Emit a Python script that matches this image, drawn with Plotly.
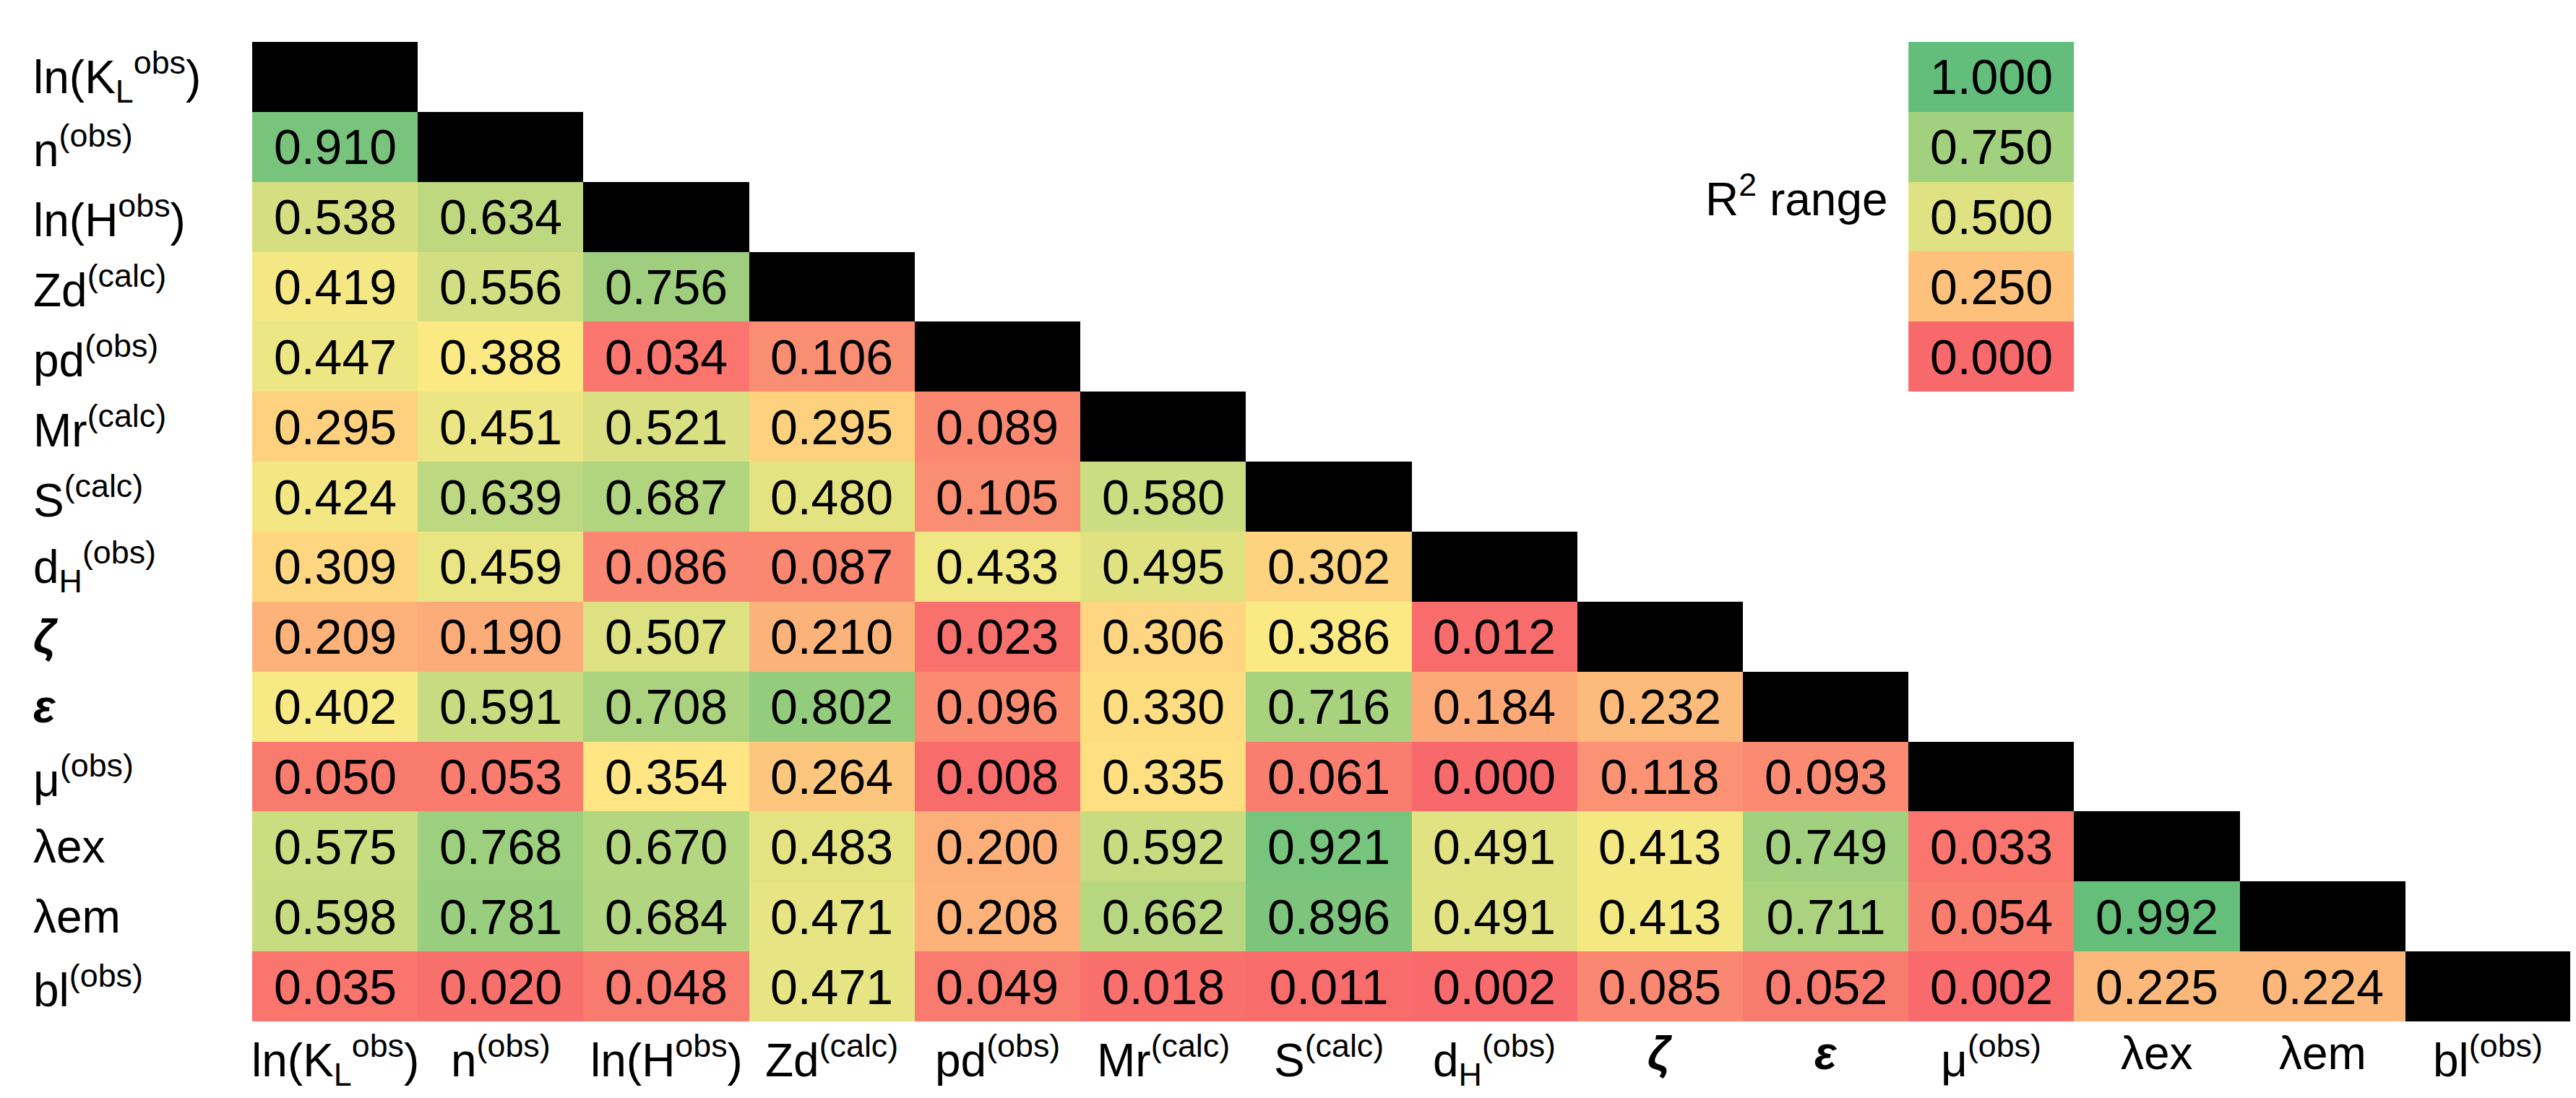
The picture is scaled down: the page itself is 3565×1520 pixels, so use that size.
import numpy as np
import plotly.graph_objects as go

# ---- data ----
variables = [
    "ln(K<sub>L</sub><sup>obs</sup>)", "n<sup>(obs)</sup>", "ln(H<sup>obs</sup>)",
    "Zd<sup>(calc)</sup>", "pd<sup>(obs)</sup>", "Mr<sup>(calc)</sup>",
    "S<sup>(calc)</sup>", "d<sub>H</sub><sup>(obs)</sup>", "<b><i>ζ</i></b>",
    "<b><i>ε</i></b>", "μ<sup>(obs)</sup>", "λex", "λem", "bl<sup>(obs)</sup>",
]

# lower triangle of R^2 values, row by row (row 2 .. row 14)
r2_n     = [0.910]
r2_lnH   = [0.538, 0.634]
r2_Zd    = [0.419, 0.556, 0.756]
r2_pd    = [0.447, 0.388, 0.034, 0.106]
r2_Mr    = [0.295, 0.451, 0.521, 0.295, 0.089]
r2_S     = [0.424, 0.639, 0.687, 0.480, 0.105, 0.580]
r2_dH    = [0.309, 0.459, 0.086, 0.087, 0.433, 0.495, 0.302]
r2_zeta  = [0.209, 0.190, 0.507, 0.210, 0.023, 0.306, 0.386, 0.012]
r2_eps   = [0.402, 0.591, 0.708, 0.802, 0.096, 0.330, 0.716, 0.184, 0.232]
r2_mu    = [0.050, 0.053, 0.354, 0.264, 0.008, 0.335, 0.061, 0.000, 0.118, 0.093]
r2_lex   = [0.575, 0.768, 0.670, 0.483, 0.200, 0.592, 0.921, 0.491, 0.413, 0.749, 0.033]
r2_lem   = [0.598, 0.781, 0.684, 0.471, 0.208, 0.662, 0.896, 0.491, 0.413, 0.711, 0.054, 0.992]
r2_bl    = [0.035, 0.020, 0.048, 0.471, 0.049, 0.018, 0.011, 0.002, 0.085, 0.052, 0.002, 0.225, 0.224]

legend_values = [1.000, 0.750, 0.500, 0.250, 0.000]
legend_title = "R<sup>2</sup> range"

rows = [r2_n, r2_lnH, r2_Zd, r2_pd, r2_Mr, r2_S, r2_dH, r2_zeta,
        r2_eps, r2_mu, r2_lex, r2_lem, r2_bl]

# ---- build matrices ----
n = len(variables)
Z = [[None] * n for _ in range(n)]
T = [[""] * n for _ in range(n)]
for i, row in enumerate(rows, start=1):
    for j, v in enumerate(row):
        Z[i][j] = v
        T[i][j] = f"{v:.3f}"
D = [[1 if i == j else None for j in range(n)] for i in range(n)]

# Excel-like 3-colour scale: min -> red, 50th percentile -> yellow, max -> green
all_vals = [v for r in rows for v in r] + legend_values
zmin, zmax = min(all_vals), max(all_vals)
zmid = float(np.percentile(all_vals, 50))
mid_frac = (zmid - zmin) / (zmax - zmin)
cscale = [[0.0, "#F8696B"], [mid_frac, "#FFEB84"], [1.0, "#63BE7B"]]

FONT = "Arial, Liberation Sans, sans-serif"
FS_CELL = 68
FS_LAB = 64

idx = list(range(n))
fig = go.Figure()
fig.add_trace(go.Heatmap(
    z=Z, x=idx, y=idx, text=T, texttemplate="%{text}",
    textfont=dict(family=FONT, size=FS_CELL, color="black"),
    colorscale=cscale, zmin=zmin, zmax=zmax, showscale=False,
    hoverinfo="skip", xgap=0, ygap=0,
))
fig.add_trace(go.Heatmap(
    z=D, x=idx, y=idx, colorscale=[[0, "black"], [1, "black"]],
    showscale=False, hoverinfo="skip",
))
# legend column (placed in the empty upper triangle, column 11)
leg_col = 10
fig.add_trace(go.Heatmap(
    z=[[v] for v in legend_values], x=[leg_col], y=list(range(len(legend_values))),
    text=[[f"{v:.3f}"] for v in legend_values], texttemplate="%{text}",
    textfont=dict(family=FONT, size=FS_CELL, color="black"),
    colorscale=cscale, zmin=zmin, zmax=zmax, showscale=False, hoverinfo="skip",
))

annotations = []
W, H = 3565, 1520
ml, mr, mt, mb = 341, 15, 50, 114
plot_w = W - ml - mr
# row labels (left aligned)
for i, lab in enumerate(variables):
    annotations.append(dict(
        text=lab, x=-(ml - 36) / plot_w, xref="paper", xanchor="left",
        y=i, yref="y", yanchor="middle", showarrow=False,
        font=dict(family=FONT, size=FS_LAB, color="black"),
    ))
# column labels
for i, lab in enumerate(variables):
    annotations.append(dict(
        text=lab, x=i, xref="x", xanchor="center",
        y=0, yref="paper", yanchor="top", yshift=-6, showarrow=False,
        font=dict(family=FONT, size=FS_LAB, color="black"),
    ))
# legend title
annotations.append(dict(
    text=legend_title, x=leg_col - 0.5, xref="x", xanchor="right", xshift=-26,
    y=1.7, yref="y", yanchor="middle", showarrow=False,
    font=dict(family=FONT, size=FS_LAB, color="black"),
))

fig.update_layout(
    width=W, height=H,
    margin=dict(l=ml, r=mr, t=mt, b=mb),
    paper_bgcolor="white", plot_bgcolor="white",
    xaxis=dict(range=[-0.5, n - 0.5], showticklabels=False, showgrid=False,
               zeroline=False, showline=False, ticks=""),
    yaxis=dict(range=[n - 0.5, -0.5], showticklabels=False, showgrid=False,
               zeroline=False, showline=False, ticks=""),
    annotations=annotations,
    font=dict(family=FONT),
)

fig.write_html("out.html")
